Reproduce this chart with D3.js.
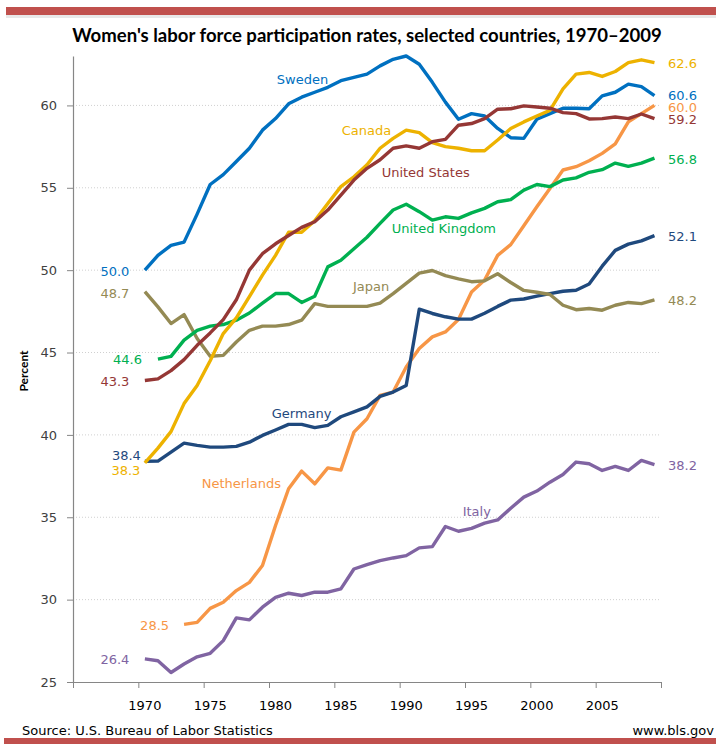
<!DOCTYPE html>
<html>
<head>
<meta charset="utf-8">
<script src="https://cdn.jsdelivr.net/npm/d3@7"></script>
<style>
  html, body { margin: 0; padding: 0; background: #fff; }
  svg { display: block; }
</style>
</head>
<body>
<svg id="chart" width="716" height="744"></svg>
<script>
// ---------------- DATA ----------------
const years = d3.range(1970, 2010);
const xTickLabels = [1970, 1975, 1980, 1985, 1990, 1995, 2000, 2005];
const yTickValues = [25, 30, 35, 40, 45, 50, 55, 60];

const sweden = [50.0, 50.9, 51.5, 51.7, 53.4, 55.2, 55.8, 56.6, 57.4, 58.5,
  59.2, 60.1, 60.5, 60.8, 61.1, 61.5, 61.7, 61.9, 62.4, 62.8,
  63.0, 62.5, 61.4, 60.2, 59.16, 59.5, 59.36, 58.6, 58.04, 58.0,
  59.16, 59.5, 59.83, 59.83, 59.8, 60.58, 60.8, 61.29, 61.14, 60.6];
const canada = [38.3, 39.2, 40.2, 41.9, 43.0, 44.5, 46.15, 47.1, 48.4, 49.7,
  50.9, 52.3, 52.3, 53.0, 54.05, 55.07, 55.67, 56.4, 57.4, 58.0,
  58.5, 58.35, 57.74, 57.5, 57.4, 57.25, 57.25, 57.9, 58.6, 59.0,
  59.36, 59.7, 61.0, 61.9, 62.0, 61.76, 62.06, 62.6, 62.77, 62.6];
const unitedStates = [43.3, 43.4, 43.9, 44.57, 45.44, 46.19, 47.0, 48.2, 50.0, 51.0,
  51.6, 52.1, 52.6, 52.94, 53.65, 54.56, 55.47, 56.18, 56.7, 57.4,
  57.54, 57.4, 57.8, 57.94, 58.8, 58.9, 59.2, 59.77, 59.8, 59.97,
  59.9, 59.83, 59.56, 59.5, 59.18, 59.2, 59.3, 59.2, 59.48, 59.2];
const unitedKingdom = [null, 44.6, 44.77, 45.75, 46.35, 46.6, 46.7, 46.96, 47.4, 48.0,
  48.58, 48.58, 48.04, 48.42, 50.2, 50.6, 51.3, 52.0, 52.84, 53.65,
  54.0, 53.55, 53.04, 53.24, 53.14, 53.48, 53.75, 54.15, 54.28, 54.86,
  55.2, 55.07, 55.47, 55.6, 55.94, 56.1, 56.5, 56.3, 56.5, 56.8];
const japan = [48.7, 47.77, 46.76, 47.3, 45.85, 44.77, 44.83, 45.64, 46.35, 46.6,
  46.6, 46.7, 46.96, 47.97, 47.8, 47.8, 47.8, 47.8, 48.0, 48.58,
  49.2, 49.82, 49.98, 49.67, 49.47, 49.3, 49.35, 49.78, 49.25, 48.77,
  48.66, 48.52, 47.87, 47.6, 47.67, 47.57, 47.87, 48.04, 47.97, 48.2];
const germany = [38.4, 38.41, 38.96, 39.5, 39.36, 39.26, 39.26, 39.3, 39.56, 39.97,
  40.3, 40.64, 40.64, 40.44, 40.58, 41.1, 41.4, 41.7, 42.34, 42.6,
  43.0, 47.63, 47.37, 47.17, 47.03, 47.03, 47.38, 47.8, 48.18, 48.25,
  48.42, 48.58, 48.72, 48.78, 49.16, 50.24, 51.2, 51.58, 51.78, 52.1];
const netherlands = [null, null, null, 28.5, 28.62, 29.47, 29.84, 30.55, 31.05, 32.07,
  34.5, 36.73, 37.8, 37.03, 38.0, 37.86, 40.17, 40.98, 42.4, 42.6,
  44.12, 45.24, 45.95, 46.25, 47.0, 48.68, 49.4, 50.9, 51.55, 52.7,
  53.85, 54.96, 56.08, 56.28, 56.64, 57.09, 57.66, 59.0, 59.5, 60.0];
const italy = [26.4, 26.29, 25.58, 26.09, 26.53, 26.74, 27.51, 28.89, 28.77, 29.54,
  30.14, 30.39, 30.25, 30.45, 30.45, 30.65, 31.86, 32.13, 32.37, 32.53,
  32.67, 33.14, 33.22, 34.44, 34.15, 34.33, 34.64, 34.84, 35.55, 36.22,
  36.59, 37.13, 37.6, 38.35, 38.25, 37.84, 38.09, 37.84, 38.45, 38.2];

const countryNames = ["Sweden", "Canada", "United States", "United Kingdom",
  "Japan", "Germany", "Netherlands", "Italy"];
const seriesValues = [sweden, canada, unitedStates, unitedKingdom,
  japan, germany, netherlands, italy];

// ---------------- STYLE / LAYOUT ----------------
const colors = {
  "Sweden": "#0070C0", "Canada": "#EDB200", "United States": "#953735",
  "United Kingdom": "#00B050", "Japan": "#948A54", "Germany": "#1F497D",
  "Netherlands": "#F79646", "Italy": "#8064A2"
};
// Name-label anchor (start) in data space [year, value]
const nameAnchor = {
  "Sweden": [1980.1, 61.55], "Canada": [1985.06, 58.51],
  "United States": [1988.12, 55.91], "United Kingdom": [1988.89, 52.53],
  "Japan": [1985.93, 49.03], "Germany": [1979.71, 41.29],
  "Netherlands": [1974.35, 37.03], "Italy": [1994.32, 35.37]
};
// start label: right edge gap (px) from first point, vertical shift (px); end label vertical shift
const labelOffsets = {
  "Sweden": {sg: 15.5, sdy: 1.5, edy: -0.5},
  "Canada": {sg: 4.5, sdy: 8, edy: 1},
  "United States": {sg: 15.5, sdy: 1, edy: 1},
  "United Kingdom": {sg: 16, sdy: 0.7, edy: 1},
  "Japan": {sg: 15.5, sdy: 2.3, edy: 0.7},
  "Germany": {sg: 4, sdy: -5.7, edy: 0.7},
  "Netherlands": {sg: 15, sdy: 0.7, edy: 2},
  "Italy": {sg: 15.5, sdy: 1, edy: 1}
};

const svg = d3.select("#chart");
const W = 716, H = 744;
const pL = 73, pR = 661, pT = 56, pB = 682;

const x = d3.scaleLinear().domain([1964.5, 2009.5]).range([pL, pR]);
const y = d3.scaleLinear().domain([25, 63]).range([pB, pT]);

const labelFont = "'DejaVu Sans', Verdana, sans-serif";

// Red bars
svg.append("rect").attr("x", 6).attr("y", 15).attr("width", W - 6).attr("height", 3)
  .attr("fill", "#d9d9d9").attr("opacity", 0.6);
svg.append("rect").attr("x", 6).attr("y", 7).attr("width", W - 6).attr("height", 8)
  .attr("fill", "#C0504D");
svg.append("rect").attr("x", 4).attr("y", 738).attr("width", W - 4).attr("height", 6)
  .attr("fill", "#C0504D");

// Title
const title = svg.append("text")
  .attr("x", 367).attr("y", 42)
  .attr("text-anchor", "middle")
  .attr("font-family", "Lato, 'Open Sans', sans-serif")
  .attr("font-weight", "bold")
  .attr("font-size", 16)
  .attr("fill", "#000")
  .text("Women's labor force participation rates, selected countries, 1970–2009");
{
  const target = 590;
  const len = title.node().getComputedTextLength();
  if (len > 0) title.attr("font-size", 16 * target / len);
}

// Gridlines
svg.append("g").selectAll("line")
  .data(yTickValues.filter(v => v > 25))
  .join("line")
  .attr("x1", pL).attr("x2", pR)
  .attr("y1", d => y(d)).attr("y2", d => y(d))
  .attr("stroke", "#d0d0d0").attr("stroke-width", 1)
  .attr("stroke-dasharray", "1,2");

// Y axis
const yAxis = svg.append("g")
  .attr("transform", `translate(${pL},0)`)
  .call(d3.axisLeft(y).tickValues(yTickValues).tickSize(6).tickSizeOuter(0).tickPadding(10));
yAxis.select(".domain").attr("stroke", "#868686").attr("stroke-width", 1.2);
yAxis.selectAll(".tick line").attr("stroke", "#868686");
yAxis.selectAll(".tick text")
  .attr("font-family", labelFont).attr("font-size", 13).attr("fill", "#404040");

// X axis (tick marks at category boundaries)
const boundaries = d3.range(1964.5, 2010, 5);
const xAxis = svg.append("g")
  .attr("transform", `translate(0,${pB})`)
  .call(d3.axisBottom(x).tickValues(boundaries).tickSize(6).tickSizeOuter(0).tickFormat(""));
xAxis.select(".domain").attr("stroke", "#868686").attr("stroke-width", 1.2);
xAxis.selectAll(".tick line").attr("stroke", "#868686");

// X labels at category centers
svg.append("g").selectAll("text")
  .data(xTickLabels)
  .join("text")
  .attr("x", d => x(d)).attr("y", 710)
  .attr("text-anchor", "middle")
  .attr("font-family", labelFont).attr("font-size", 13).attr("fill", "#000")
  .text(d => d);

// Y axis title
svg.append("text")
  .attr("transform", "translate(28,371) rotate(-90)")
  .attr("text-anchor", "middle")
  .attr("font-family", "Lato, sans-serif")
  .attr("font-weight", "bold")
  .attr("font-size", 12)
  .attr("fill", "#000")
  .text("Percent");

// Lines
const line = d3.line()
  .defined(d => d.v != null)
  .x(d => x(d.year))
  .y(d => y(d.v));

const series = countryNames.map((name, i) => ({
  name,
  points: years.map((yr, j) => ({year: yr, v: seriesValues[i][j]}))
}));

const drawOrder = ["Italy", "Netherlands", "Germany", "Japan", "United Kingdom", "Sweden", "Canada", "United States"];
svg.append("g").selectAll("path")
  .data(drawOrder.map(n => series.find(s => s.name === n)))
  .join("path")
  .attr("d", d => line(d.points))
  .attr("fill", "none")
  .attr("stroke", d => colors[d.name])
  .attr("stroke-width", 3.4)
  .attr("stroke-linejoin", "round")
  .attr("stroke-linecap", "butt");

// Name labels
svg.append("g").selectAll("text")
  .data(series)
  .join("text")
  .attr("x", d => x(nameAnchor[d.name][0]))
  .attr("y", d => y(nameAnchor[d.name][1]))
  .attr("dy", "0.35em")
  .attr("font-family", labelFont).attr("font-size", 13)
  .attr("fill", d => colors[d.name])
  .text(d => d.name);

// Start value labels
svg.append("g").selectAll("text")
  .data(series)
  .join("text")
  .each(function(d) {
    const first = d.points.find(p => p.v != null);
    const o = labelOffsets[d.name];
    d3.select(this)
      .attr("x", x(first.year) - o.sg)
      .attr("y", y(first.v) + o.sdy)
      .attr("dy", "0.35em")
      .attr("text-anchor", "end")
      .text(d3.format(".1f")(first.v));
  })
  .attr("font-family", labelFont).attr("font-size", 13)
  .attr("fill", d => colors[d.name]);

// End value labels
svg.append("g").selectAll("text")
  .data(series)
  .join("text")
  .each(function(d) {
    const last = d.points[d.points.length - 1];
    const o = labelOffsets[d.name];
    d3.select(this)
      .attr("x", 668)
      .attr("y", y(last.v) + o.edy)
      .attr("dy", "0.35em")
      .attr("text-anchor", "start")
      .text(d3.format(".1f")(last.v));
  })
  .attr("font-family", labelFont).attr("font-size", 13)
  .attr("fill", d => colors[d.name]);

// Footer
svg.append("text")
  .attr("x", 22).attr("y", 735)
  .attr("font-family", labelFont).attr("font-size", 13).attr("fill", "#000")
  .text("Source: U.S. Bureau of Labor Statistics");
svg.append("text")
  .attr("x", 714).attr("y", 735)
  .attr("text-anchor", "end")
  .attr("font-family", labelFont).attr("font-size", 13).attr("fill", "#000")
  .text("www.bls.gov");
</script>
</body>
</html>
